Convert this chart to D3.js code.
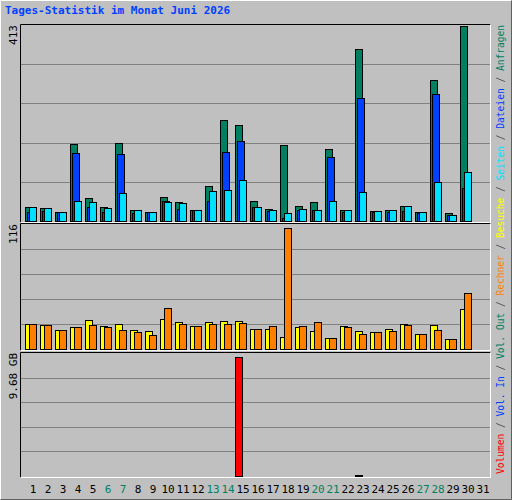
<html>
<head>
<script src="https://d3js.org/d3.v7.min.js"></script>
<style>body{margin:0;background:#fff}</style>
</head>
<body>
<svg id="chart" width="512" height="500"></svg>
<script>
const days = d3.range(1, 32);
const weekend = [6, 7, 13, 14, 20, 21, 27, 28];
// per day 1..30 (day 31 has no data)
const hits  = [30,28,20,163,49,30,165,24,18,51,39,24,73,212,203,43,26,161,32,39,151,24,362,22,24,32,20,298,16,410];
const files = [20,22,20,144,30,20,142,16,18,43,25,24,43,146,168,29,22,6,24,24,134,20,260,18,20,22,16,267,12,70];
const pages = [30,28,20,43,40,28,58,24,18,41,37,24,64,66,87,30,24,16,26,24,43,24,62,22,24,32,20,83,13,104];
const visits = [23,22,18,20,27,21,23,18,17,28,25,21,25,26,26,19,19,11.5,20,17,10.5,21,17,16,19,23,14,22,9.5,37];
const sites  = [23,22,18,20,22,20,18,16,13,38,23,21,23,23,24,19,21,112,21,25,10.5,20,14,16,17,22,14,18,9.5,52];
const volumeGB = [0,0,0,0,0,0,0,0,0,0,0,0,0,0,9.37,0,0,0,0,0,0,0,0.1,0,0,0,0,0,0,0];
const maxHits = 413, maxSites = 116, maxVol = 9.68;

const svg = d3.select("svg#chart");
const font = "DejaVu Sans Mono";
const green = "#008060", blue = "#0040ff", cyan = "#00e0ff", yellow = "#ffff00", orange = "#ff8000", red = "#ff0000";

svg.append("rect").attr("x", 0).attr("y", 0).attr("width", 512).attr("height", 500).attr("fill", "#c0c0c0");
svg.append("path").attr("d", "M0.5,499.5V0.5H511.5").attr("stroke", "#fff").attr("fill", "none");
svg.append("path").attr("d", "M0.5,499.5H511.5V0.5").attr("stroke", "#606060").attr("fill", "none");

const x = d3.scaleLinear().domain([1, 2]).range([25, 40]);
const panels = [
  {top: 25, bottom: 221, max: maxHits},
  {top: 224, bottom: 349, max: maxSites},
  {top: 353, bottom: 476, max: maxVol}
];
const ys = panels.map(p => d3.scaleLinear().domain([0, p.max]).range([p.bottom, p.top]));

panels.forEach((p, i) => {
  const g = svg.append("g");
  g.selectAll("line.grid").data(d3.range(1, 5)).join("line")
    .attr("x1", 21).attr("x2", 490)
    .attr("y1", d => Math.round(ys[i](p.max * d / 5)) + 0.5)
    .attr("y2", d => Math.round(ys[i](p.max * d / 5)) + 0.5)
    .attr("stroke", "#808080");
  g.append("path").attr("d", `M20.5,${p.bottom + 1.5}V${p.top - 0.5}H490.5`).attr("stroke", "#000").attr("fill", "none");
  g.append("path").attr("d", `M20.5,${p.bottom + 1.5}H490.5V${p.top - 0.5}`).attr("stroke", "#fff").attr("fill", "none");
});

function bars(data, y, off, color) {
  svg.append("g").selectAll("rect").data(data).join("rect")
    .attr("x", (d, i) => x(i + 1) + off + 0.5)
    .attr("y", d => Math.round(y(d)) + 0.5)
    .attr("width", 7)
    .attr("height", d => Math.round(y(0)) - Math.round(y(d)))
    .attr("fill", color).attr("stroke", "#000");
}
bars(hits, ys[0], 0, green);
bars(files, ys[0], 2, blue);
bars(pages, ys[0], 4, cyan);
bars(visits, ys[1], 0, yellow);
bars(sites, ys[1], 4, orange);
bars(volumeGB, ys[2], 0, red);

// title
svg.append("text").attr("x", 5).attr("y", 14).attr("font-family", font).attr("font-size", 11)
  .attr("font-weight", "bold").attr("fill", "#0040ff").text("Tages-Statistik im Monat Juni 2026");

// y max labels
[["413", 25], ["116", 224], ["9.68 GB", 353]].forEach(([t, yy]) => {
  svg.append("text").attr("transform", `translate(17,${yy}) rotate(-90)`).attr("text-anchor", "end")
    .attr("font-family", font).attr("font-size", 11).attr("fill", "#000").text(t);
});

// day labels
svg.append("g").selectAll("text").data(days).join("text")
  .attr("x", d => x(d) + 8).attr("y", 493).attr("text-anchor", "middle")
  .attr("font-family", font).attr("font-size", 11)
  .attr("fill", d => weekend.includes(d) ? "#008060" : "#000").text(d => d);

// right legend
const legend = [["Volumen", red], [" / ", "#404040"], ["Vol. In", blue], [" / ", "#404040"], ["Vol. Out", green],
  [" / ", "#404040"], ["Rechner", orange], [" / ", "#404040"], ["Besuche", yellow], [" / ", "#404040"],
  ["Seiten", cyan], [" / ", "#404040"], ["Dateien", blue], [" / ", "#404040"], ["Anfragen", green]];
const lt = svg.append("text").attr("transform", "translate(504,474) rotate(-90)")
  .attr("font-family", font).attr("font-size", 9.6).attr("textLength", 449).attr("xml:space", "preserve")
  .style("white-space", "pre");
lt.selectAll("tspan").data(legend).join("tspan").attr("fill", d => d[1]).text(d => d[0]);
</script>
</body>
</html>
